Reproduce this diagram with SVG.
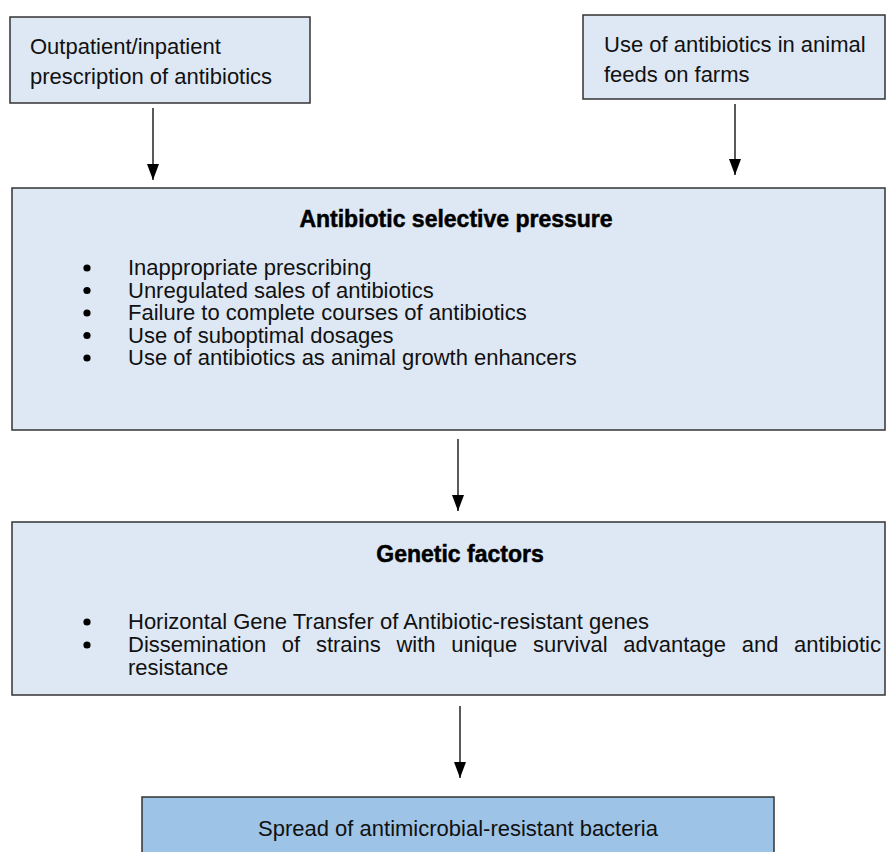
<svg xmlns="http://www.w3.org/2000/svg" width="895" height="852" viewBox="0 0 895 852">
<defs>
<style>
.box{fill:#DEE8F4;stroke:#333;stroke-width:1.5}
.dark{fill:#9DC3E6;stroke:#333;stroke-width:1.5}
.t{font-family:"Liberation Sans",Arial,sans-serif;font-size:22px;fill:#111}
.h{font-family:"Liberation Sans",Arial,sans-serif;font-size:23px;font-weight:bold;fill:#000;stroke:#000;stroke-width:0.5;text-anchor:middle}
.c{stroke:#000;stroke-width:1.3;fill:none}
.dot{fill:#000}
</style>
<marker id="ah" markerWidth="16" markerHeight="12" refX="16" refY="6" orient="auto" markerUnits="userSpaceOnUse" viewBox="0 0 16 12">
<path d="M0,0 L16,6 L0,12 Z" fill="#000"/>
</marker>
</defs>
<rect width="895" height="852" fill="#fff"/>
<g id="n1">
<rect class="box" x="10" y="17" width="300" height="86"/>
<text class="t" x="30" y="54">Outpatient/inpatient</text>
<text class="t" x="30" y="84">prescription of antibiotics</text>
</g>
<g id="n2">
<rect class="box" x="583" y="15" width="302" height="84"/>
<text class="t" x="604" y="52">Use of antibiotics in animal</text>
<text class="t" x="604" y="82">feeds on farms</text>
</g>
<g id="n3">
<rect class="box" x="12" y="188" width="873" height="242"/>
<text class="h" x="456" y="227">Antibiotic selective pressure</text>
<circle class="dot" cx="87" cy="268" r="3.6"/>
<circle class="dot" cx="87" cy="290.5" r="3.6"/>
<circle class="dot" cx="87" cy="313" r="3.6"/>
<circle class="dot" cx="87" cy="335.5" r="3.6"/>
<circle class="dot" cx="87" cy="358" r="3.6"/>
<text class="t" x="128" y="275">Inappropriate prescribing</text>
<text class="t" x="128" y="297.5">Unregulated sales of antibiotics</text>
<text class="t" x="128" y="320">Failure to complete courses of antibiotics</text>
<text class="t" x="128" y="342.5">Use of suboptimal dosages</text>
<text class="t" x="128" y="365">Use of antibiotics as animal growth enhancers</text>
</g>
<g id="n4">
<rect class="box" x="12" y="522" width="873" height="173"/>
<text class="h" x="460" y="562">Genetic factors</text>
<circle class="dot" cx="87" cy="622" r="3.6"/>
<circle class="dot" cx="87" cy="645" r="3.6"/>
<text class="t" x="128" y="629">Horizontal Gene Transfer of Antibiotic-resistant genes</text>
<text class="t" y="652"><tspan x="128">Dissemination</tspan><tspan x="281.8">of</tspan><tspan x="315.9">strains</tspan><tspan x="396.4">with</tspan><tspan x="451.2">unique</tspan><tspan x="533">survival</tspan><tspan x="623.3">advantage</tspan><tspan x="741.7">and</tspan><tspan x="794.1">antibiotic</tspan></text>
<text class="t" x="128" y="675">resistance</text>
</g>
<g id="n5">
<rect class="dark" x="142" y="797" width="632" height="70"/>
<text class="t" x="458" y="836" text-anchor="middle">Spread of antimicrobial-resistant bacteria</text>
</g>
<g id="connectors">
<line class="c" x1="153" y1="108" x2="153" y2="180" marker-end="url(#ah)"/>
<line class="c" x1="735" y1="104" x2="735" y2="175" marker-end="url(#ah)"/>
<line class="c" x1="458" y1="439" x2="458" y2="511" marker-end="url(#ah)"/>
<line class="c" x1="460" y1="706" x2="460" y2="778" marker-end="url(#ah)"/>
</g>
</svg>
